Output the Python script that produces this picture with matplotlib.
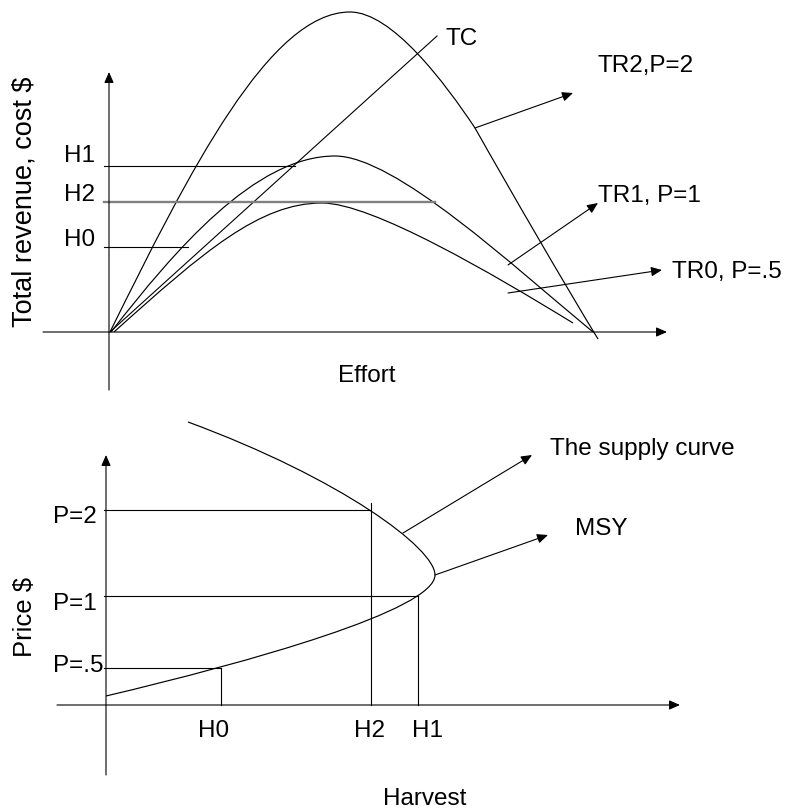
import matplotlib
matplotlib.use('Agg')
import matplotlib.pyplot as plt
from matplotlib.path import Path
from matplotlib.patches import PathPatch

plt.rcParams['font.family'] = ['Liberation Sans', 'DejaVu Sans']

# ---- top panel: total revenue / cost vs effort (sketch units) ----
# TR curves given as cubic bezier points: start, ctrl, ctrl, anchor, ...
tr2_effort = [0, 80, 160, 240, 282, 335, 365, 400, 455, 488]
tr2_revenue = [0, 162, 320, 320, 320, 249, 204, 142, 47, -7]
tr1_effort = [1, 65, 145, 225, 285, 403, 483]
tr1_revenue = [0, 82, 176, 176, 176, 66, 0]
tr0_effort = [4, 94, 150, 212, 262, 383, 463]
tr0_revenue = [0, 81, 129, 129, 129, 58, 9]
tc_effort = [0, 327]
tc_cost = [0, 296]

h_labels = ['H1', 'H2', 'H0']
h_revenue = [166, 130, 85]
h_line_end = [185, 325, 78]

# ---- bottom panel: price vs harvest ----
supply_harvest = [0, 144, 329, 329, 329, 234, 82]
supply_price = [9, 43, 95, 130, 157, 227, 283]

p_labels = ['P=2', 'P=1', 'P=.5']
p_levels = [195, 109, 37]
p_harvest = [265, 312, 115]      # H2, H1, H0
p_vert_top = [202, 109, 37]
harvest_labels = ['H2', 'H1', 'H0']


def bezier(ax, xs, ys, color='black', lw=0.85):
    verts = list(zip(xs, ys))
    codes = [Path.MOVETO] + [Path.CURVE4] * (len(verts) - 1)
    ax.add_patch(PathPatch(Path(verts, codes), fc='none', ec=color, lw=lw,
                           capstyle='butt'))


def arrow(ax, x0, y0, x1, y1):
    ax.annotate('', xy=(x1, y1), xytext=(x0, y0),
                arrowprops=dict(arrowstyle='-|>,head_length=0.5,head_width=0.22',
                                color='black', lw=0.8, mutation_scale=13,
                                shrinkA=0, shrinkB=0))


fig = plt.figure(figsize=(7.87, 8.09), dpi=100)
ax1 = fig.add_axes([0, 0, 1, 1])
ax1.set_xlim(-110, 677)
ax1.set_ylim(332 - 809, 332)
ax2 = fig.add_axes([0, 0, 1, 1])
ax2.set_xlim(-106, 681)
ax2.set_ylim(705 - 809, 705)
for ax in (ax1, ax2):
    ax.axis('off')
    ax.patch.set_alpha(0)

fs = 17.5
lw_line = 0.8

#<top panel>
arrow(ax1, -1, -58, -1, 260)
arrow(ax1, -67, 0, 557, 0)
bezier(ax1, tr2_effort, tr2_revenue)
bezier(ax1, tr1_effort, tr1_revenue)
bezier(ax1, tr0_effort, tr0_revenue)
ax1.plot(tc_effort, tc_cost, color='black', lw=lw_line)
for lab, lev, xe in zip(h_labels, h_revenue, h_line_end):
    if lab == 'H2':
        ax1.plot([-6, xe], [lev, lev], color='#808080', lw=1.7)
    else:
        ax1.plot([-6, xe], [lev, lev], color='black', lw=lw_line)
ax1.text(-46, 170, 'H1', fontsize=fs, va='baseline')
ax1.text(-46, 131, 'H2', fontsize=fs, va='baseline')
ax1.text(-46, 86, 'H0', fontsize=fs, va='baseline')
ax1.text(-85, 130, 'Total revenue, cost $', fontsize=19.5, rotation=90,
         ha='center', va='center')
ax1.text(257, -50, 'Effort', fontsize=fs, ha='center', va='baseline')
ax1.text(335, 287, 'TC', fontsize=fs, va='baseline')
ax1.text(488, 260, 'TR2,P=2', fontsize=fs, va='baseline')
ax1.text(488, 130, 'TR1, P=1', fontsize=fs, va='baseline')
ax1.text(562, 54, 'TR0, P=.5', fontsize=fs, va='baseline')
arrow(ax1, 365, 204, 463, 239)
arrow(ax1, 398, 67, 488, 129)
arrow(ax1, 398, 39, 552, 62)
#</top panel>

#<bottom panel>
arrow(ax2, 0, -70, 0, 250)
arrow(ax2, -49, 0, 574, 0)
bezier(ax2, supply_harvest, supply_price)
for lev, h, top in zip(p_levels, p_harvest, p_vert_top):
    ax2.plot([-2, h], [lev, lev], color='black', lw=lw_line)
    ax2.plot([h, h], [0, top], color='black', lw=lw_line)
ax2.text(-53, 182, 'P=2', fontsize=fs, va='baseline')
ax2.text(-53, 95, 'P=1', fontsize=fs, va='baseline')
ax2.text(-53, 33, 'P=.5', fontsize=fs, va='baseline')
ax2.text(-81, 88, 'Price $', fontsize=18.5, rotation=90, ha='center', va='center')
ax2.text(264, -32, 'H2', fontsize=fs, ha='center', va='baseline')
ax2.text(321, -32, 'H1', fontsize=fs, ha='center', va='baseline')
ax2.text(108, -32, 'H0', fontsize=fs, ha='center', va='baseline')
ax2.text(319, -100, 'Harvest', fontsize=fs, ha='center', va='baseline')
ax2.text(444, 250, 'The supply curve', fontsize=fs, va='baseline')
ax2.text(469, 170, 'MSY', fontsize=fs, va='baseline')
arrow(ax2, 297, 172, 426, 250)
arrow(ax2, 329, 130, 442, 170)
#</bottom panel>

fig.savefig('out.png', dpi=100)
